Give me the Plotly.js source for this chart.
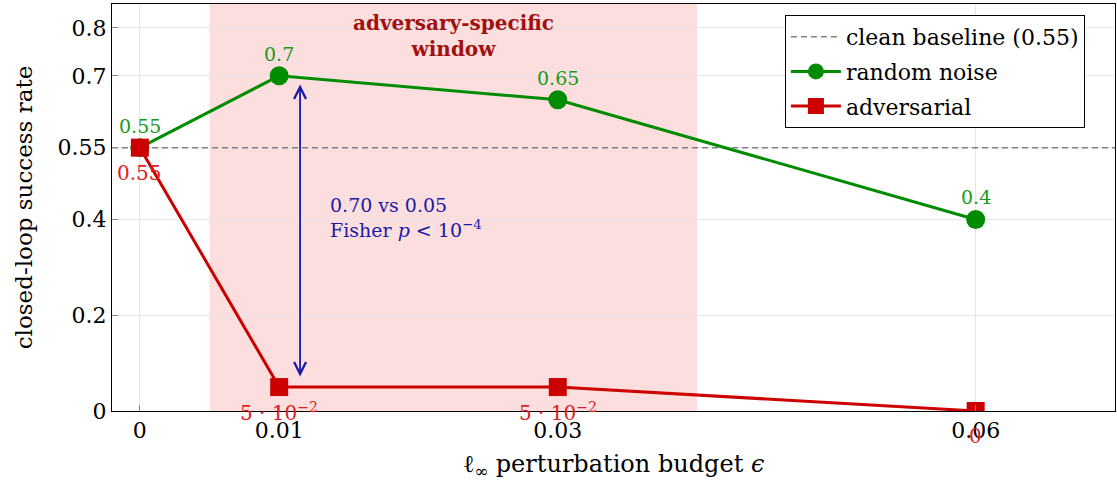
<!DOCTYPE html>
<html><head><meta charset="utf-8">
<script src="https://cdn.plot.ly/plotly-3.0.1.min.js"></script>
<style>body{margin:0;background:#fff}#c{width:1117px;height:481px}</style>
</head><body><div id="c"></div>
<script>
const eps = [0, 0.01, 0.03, 0.06];
const randomNoise = [0.55, 0.7, 0.65, 0.4];
const adversarial = [0.55, 0.05, 0.05, 0];
const randomLabels = ['0.55', '0.7', '0.65', '0.4'];
const advLabels = ['0.55', '5 · 10<sup>−2</sup>', '5 · 10<sup>−2</sup>', '0'];
const baseline = 0.55;
const xRange = [-0.002, 0.07];
const yRange = [0, 0.85];
const xTicks = [0, 0.01, 0.03, 0.06];
const xTickText = ['0', '0.01', '0.03', '0.06'];
const yTicks = [0, 0.2, 0.4, 0.55, 0.7, 0.8];
const yTickText = ['0', '0.2', '0.4', '0.55', '0.7', '0.8'];
const windowRange = [0.005, 0.04];
const arrowX = 0.0115;
const arrowFrom = 0.685;
const arrowTo = 0.072;

const F = '"DejaVu Serif", serif';
const green = '#008c00', red = '#cc0000', navy = '#1a1aa6';

const traces = [
  {x: xRange, y: [baseline, baseline], mode: 'lines', name: 'clean baseline (0.55)', legendgroup: 'a',
   line: {color: '#808080', width: 1.5, dash: '6px,4px'}, hoverinfo: 'skip'},
  {x: eps, y: randomNoise, mode: 'lines+markers', name: 'random noise', legendgroup: 'b',
   line: {color: green, width: 3}, marker: {symbol: 'circle', size: 19, color: green}},
  {x: eps, y: adversarial, mode: 'lines+markers', name: 'adversarial', legendgroup: 'c',
   line: {color: red, width: 3}, marker: {symbol: 'square', size: 18, color: red}}
];

const ann = [];
eps.forEach((e, i) => {
  ann.push({x: e, y: randomNoise[i], text: randomLabels[i], showarrow: false, yshift: 22,
    font: {family: F, size: 19, color: '#1a9a1a'}});
  ann.push({x: e, y: adversarial[i], text: advLabels[i], showarrow: false, yshift: -25,
    font: {family: F, size: 20, color: '#e02020'}});
});
ann.push({x: (windowRange[0] + windowRange[1]) / 2, y: 1, xref: 'x', yref: 'paper', yanchor: 'top',
  yshift: -5, showarrow: false, text: '<b>adversary-specific<br>window</b>',
  font: {family: F, size: 20, color: '#a01010'}, align: 'center'});
ann.push({x: arrowX, y: arrowTo, ax: arrowX, ay: arrowFrom, xref: 'x', yref: 'y', axref: 'x', ayref: 'y',
  text: '', showarrow: true, arrowside: 'end+start', arrowhead: 5, startarrowhead: 5,
  arrowsize: 1.3, startarrowsize: 1.3, arrowwidth: 1.8, arrowcolor: navy});
ann.push({x: arrowX, y: 0.4, xref: 'x', yref: 'y', xanchor: 'left', xshift: 28, yshift: 2, showarrow: false,
  align: 'left', text: '0.70 vs 0.05<br>Fisher <i>p</i> < 10<sup>−4</sup>',
  font: {family: F, size: 19, color: navy}});

const layout = {
  width: 1117, height: 481,
  margin: {l: 112, r: 2, t: 4, b: 70},
  paper_bgcolor: '#fff', plot_bgcolor: '#fff',
  font: {family: F, size: 20, color: '#000'},
  showlegend: true,
  legend: {x: 0.970, xanchor: 'right', y: 0.973, yanchor: 'top', bgcolor: '#fff',
    bordercolor: '#000', borderwidth: 1, font: {family: F, size: 22}, tracegroupgap: 3, itemwidth: 50},
  xaxis: {range: xRange, tickvals: xTicks, ticktext: xTickText, showgrid: true, gridcolor: '#e6e6e6',
    zeroline: false, showline: true, linecolor: '#000', mirror: true, ticks: 'inside', ticklen: 6,
    tickcolor: '#888', tickfont: {family: F, size: 22},
    title: {text: 'ℓ<sub>∞</sub> perturbation budget <i>ϵ</i>', font: {family: F, size: 24}, standoff: 12}},
  yaxis: {range: yRange, tickvals: yTicks, ticktext: yTickText, showgrid: true, gridcolor: '#e6e6e6',
    zeroline: false, showline: true, linecolor: '#000', mirror: true, ticks: 'inside', ticklen: 6,
    tickcolor: '#888', tickfont: {family: F, size: 22},
    title: {text: 'closed-loop success rate', font: {family: F, size: 23}, standoff: 18}},
  shapes: [{type: 'rect', xref: 'x', yref: 'paper', x0: windowRange[0], x1: windowRange[1], y0: 0, y1: 1,
    fillcolor: '#fddede', line: {width: 0}, layer: 'below'}],
  annotations: ann
};
Plotly.newPlot('c', traces, layout, {displayModeBar: false, staticPlot: true});
</script></body></html>
